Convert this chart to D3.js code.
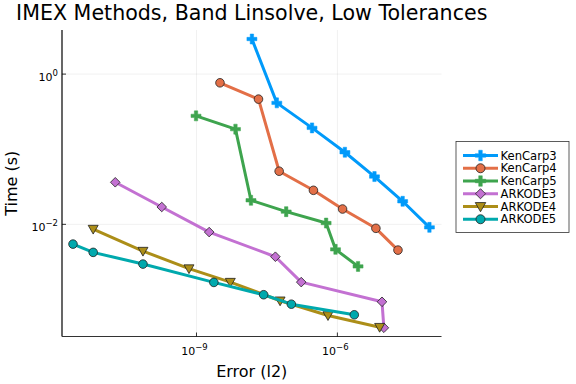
<!DOCTYPE html>
<html><head><meta charset="utf-8">
<script src="https://cdn.jsdelivr.net/npm/d3@7"></script>
<style>body{margin:0;background:#fff}svg{display:block;font-family:"DejaVu Sans",sans-serif}</style>
</head><body><svg id="c" width="576" height="384"></svg>
<script>
// log10 values
const seriesNames = ["KenCarp3","KenCarp4","KenCarp5","ARKODE3","ARKODE4","ARKODE5"];
const colors = ["#009AFA","#E36F47","#3EA44E","#C371D2","#AC8E18","#00A9AD"];
const markers = ["cross","circle","cross","diamond","tridown","circle"];
const kc3Err = [-7.82,-7.29,-6.54,-5.84,-5.21,-4.61,-4.04];
const kc3Time = [0.467,-0.383,-0.716,-1.04,-1.364,-1.693,-2.04];
const kc4Err = [-8.50,-7.68,-7.24,-6.51,-5.89,-5.18,-4.71];
const kc4Time = [-0.116,-0.333,-1.293,-1.547,-1.796,-2.053,-2.343];
const kc5Err = [-9.01,-8.17,-7.84,-7.09,-6.24,-6.04,-5.56];
const kc5Time = [-0.556,-0.733,-1.68,-1.831,-1.983,-2.333,-2.56];
const ark3Err = [-10.73,-9.74,-8.73,-7.32,-6.77,-5.05,-5.01];
const ark3Time = [-1.44,-1.769,-2.103,-2.431,-2.769,-3.031,-3.377];
const ark4Err = [-11.20,-10.14,-9.16,-8.28,-7.22,-6.20,-5.10];
const ark4Time = [-2.063,-2.356,-2.589,-2.769,-3.017,-3.213,-3.369];
const ark5Err = [-11.63,-11.20,-10.14,-8.63,-7.57,-6.98,-5.64];
const ark5Time = [-2.263,-2.373,-2.529,-2.773,-2.937,-3.063,-3.204];
const xTicks = [-9,-6];
const yTicks = [0,-2];
const titleText = "IMEX Methods, Band Linsolve, Low Tolerances";
const xLabel = "Error (l2)";
const yLabel = "Time (s)";

const errs = [kc3Err,kc4Err,kc5Err,ark3Err,ark4Err,ark5Err];
const times = [kc3Time,kc4Time,kc5Time,ark3Time,ark4Time,ark5Time];

const L=62,R=441.5,T=30,B=336.5;
const x = d3.scaleLinear().domain([-11.864,-3.783]).range([L,R]);
const y = d3.scaleLinear().domain([0.587,-3.493]).range([T,B]);
const svg = d3.select("#c");

// grid
svg.append("g").selectAll("line").data(xTicks).join("line")
  .attr("x1",d=>x(d)).attr("x2",d=>x(d)).attr("y1",T).attr("y2",B)
  .attr("stroke","#000").attr("stroke-opacity",0.1).attr("stroke-width",0.6);
svg.append("g").selectAll("line").data(yTicks).join("line")
  .attr("y1",d=>y(d)).attr("y2",d=>y(d)).attr("x1",L).attr("x2",R)
  .attr("stroke","#000").attr("stroke-opacity",0.1).attr("stroke-width",0.6);

// axes
svg.append("line").attr("x1",L).attr("x2",L).attr("y1",T).attr("y2",B).attr("stroke","#000").attr("stroke-width",1.2);
svg.append("line").attr("x1",L).attr("x2",R).attr("y1",B).attr("y2",B).attr("stroke","#333").attr("stroke-width",1.2);
svg.append("g").selectAll("line").data(xTicks).join("line")
  .attr("x1",d=>x(d)).attr("x2",d=>x(d)).attr("y1",B).attr("y2",B-4).attr("stroke","#000").attr("stroke-width",0.8);
svg.append("g").selectAll("line").data(yTicks).join("line")
  .attr("y1",d=>y(d)).attr("y2",d=>y(d)).attr("x1",L).attr("x2",L+4).attr("stroke","#000").attr("stroke-width",0.8);

function tickLabel(g, v){
  g.append("tspan").text("10");
  g.append("tspan").attr("dy",-5).attr("font-size",8.5).text(v===0?"0":"\u2212"+Math.abs(v));
}
svg.append("g").selectAll("text").data(xTicks).join("text")
  .attr("x",d=>x(d)-2).attr("y",355).attr("text-anchor","middle").attr("font-size",11)
  .each(function(d){tickLabel(d3.select(this),d);});
svg.append("g").selectAll("text").data(yTicks).join("text")
  .attr("x",58).attr("y",d=>y(d)+6.5).attr("text-anchor","end").attr("font-size",11)
  .each(function(d){tickLabel(d3.select(this),d);});

// labels
svg.append("text").attr("x",(L+R)/2).attr("y",20).attr("text-anchor","middle").attr("font-size",20.6).attr("fill","#000").text(titleText);
svg.append("text").attr("x",(L+R)/2).attr("y",377).attr("text-anchor","middle").attr("font-size",16).text(xLabel);
svg.append("text").attr("transform","translate(17,"+((T+B)/2)+") rotate(-90)").attr("text-anchor","middle").attr("font-size",16).text(yLabel);

function drawMarker(g, type, color, cx, cy, s){
  s = s||1;
  if(type==="circle"){
    g.append("circle").attr("cx",cx).attr("cy",cy).attr("r",4.3*s).attr("fill",color).attr("stroke","#222").attr("stroke-width",0.8);
  } else if(type==="cross"){
    const a=5*s,w=1.7*s;
    const p=`M${cx-w},${cy-a}h${2*w}v${a-w}h${a-w}v${2*w}h${-(a-w)}v${a-w}h${-2*w}v${-(a-w)}h${-(a-w)}v${-2*w}h${a-w}z`;
    g.append("path").attr("d",p).attr("fill",color).attr("stroke",color).attr("stroke-width",0.5);
  } else if(type==="diamond"){
    const a=4.8*s;
    g.append("path").attr("d",`M${cx},${cy-a}L${cx+a},${cy}L${cx},${cy+a}L${cx-a},${cy}Z`).attr("fill",color).attr("stroke","#222").attr("stroke-width",0.8);
  } else if(type==="tridown"){
    const a=5*s;
    g.append("path").attr("d",`M${cx-a},${cy-a*0.75}L${cx+a},${cy-a*0.75}L${cx},${cy+a}Z`).attr("fill",color).attr("stroke","#222").attr("stroke-width",0.8);
  }
}

const line = d3.line().x(d=>x(d[0])).y(d=>y(d[1]));
seriesNames.forEach((n,i)=>{
  const pts = errs[i].map((e,j)=>[e,times[i][j]]);
  svg.append("path").datum(pts).attr("d",line).attr("fill","none").attr("stroke",colors[i]).attr("stroke-width",3).attr("stroke-linejoin","round");
  const g = svg.append("g");
  pts.forEach(p=>drawMarker(g,markers[i],colors[i],x(p[0]),y(p[1])));
});

// legend
const lg = svg.append("g");
lg.append("rect").attr("x",456).attr("y",141.5).attr("width",113).attr("height",91).attr("fill","#fff").attr("stroke","#333").attr("stroke-width",0.8);
seriesNames.forEach((n,i)=>{
  const yy = 155.5 + i*12.75;
  lg.append("line").attr("x1",463).attr("x2",498).attr("y1",yy).attr("y2",yy).attr("stroke",colors[i]).attr("stroke-width",3);
  drawMarker(lg,markers[i],colors[i],480.5,yy,1.05);
  lg.append("text").attr("x",500.5).attr("y",yy+4).attr("font-size",11.6).text(n);
});
</script></body></html>
